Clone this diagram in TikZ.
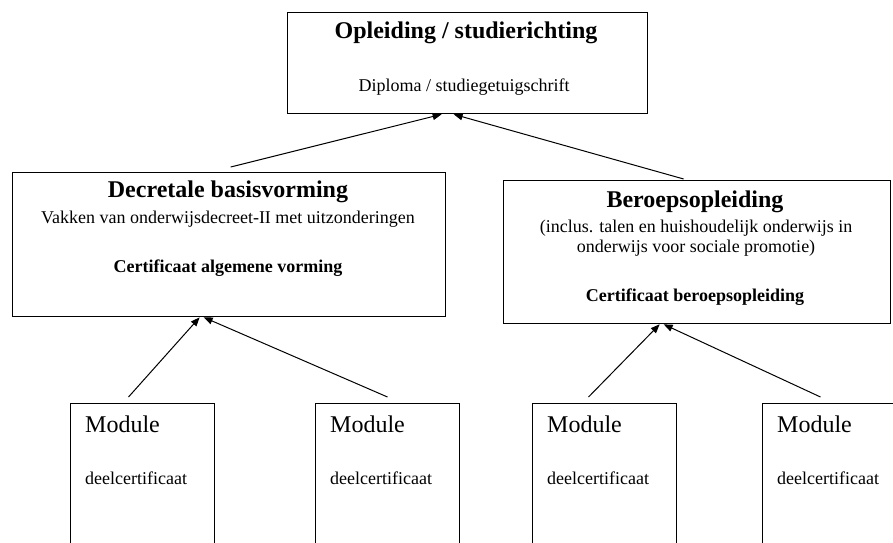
\documentclass[tikz,border=0pt]{standalone}
\usepackage{fontspec}
\setmainfont{Liberation Serif}
\usetikzlibrary{arrows.meta}
\tikzset{
  bigbox/.style={draw, line width=1.3pt, inner sep=0pt, anchor=north west},
  modbox/.style={draw, line width=1pt, inner sep=0pt, anchor=north west, minimum width=144pt, minimum height=170pt},
  titletext/.style={font=\fontsize{24}{26}\selectfont\bfseries, inner sep=0pt},
  smalltext/.style={font=\fontsize{18}{20}\selectfont, inner sep=0pt, align=center},
  smallbold/.style={font=\fontsize{18}{20}\selectfont\bfseries, inner sep=0pt},
  modtext/.style={font=\fontsize{24}{26}\selectfont, inner sep=0pt, anchor=west},
  certtext/.style={font=\fontsize{18}{20}\selectfont, inner sep=0pt, anchor=west},
  arr/.style={line width=1pt, -{Triangle[length=9pt,width=7pt]}}
}
\begin{document}
\begin{tikzpicture}[x=1pt,y=-1pt]
\useasboundingbox (0,0) rectangle (893,542);
\clip (0,0) rectangle (893,542);
\fill[white] (0,0) rectangle (893,542);

% top box
\node[bigbox, minimum width=360pt, minimum height=101pt] (top) at (287,12) {};
\node[titletext] (toptitle) at (466,33) {Opleiding / studierichting};
\node[smalltext] (topsub) at (464,87) {Diploma / studiegetuigschrift};

% left box
\node[bigbox, minimum width=433pt, minimum height=144pt] (lbox) at (12,172) {};
\node[titletext] (ltitle) at (228,192) {Decretale basisvorming};
\node[smalltext] (lsub) at (228,219) {Vakken van onderwijsdecreet-II met uitzonderingen};
\node[smallbold] (lcert) at (228,268) {Certificaat algemene vorming};

% right box
\node[bigbox, minimum width=387pt, minimum height=143pt] (rbox) at (503,180) {};
\node[titletext] (rtitle) at (695,202) {Beroepsopleiding};
\node[smalltext] (rsub) at (696,238) {(inclus. talen en huishoudelijk onderwijs in\\onderwijs voor sociale promotie)};
\node[smallbold] (rcert) at (695,297) {Certificaat beroepsopleiding};

% module boxes
\node[modbox] (m1) at (70,403) {};
\node[modbox] (m2) at (315,403) {};
\node[modbox] (m3) at (532,403) {};
\node[modbox] (m4) at (762,403) {};
\node[modtext] (m1t) at (85,424) {Module};
\node[modtext] (m2t) at (330,424) {Module};
\node[modtext] (m3t) at (547,424) {Module};
\node[modtext] (m4t) at (777,424) {Module};
\node[certtext] (m1c) at (85,478) {deelcertificaat};
\node[certtext] (m2c) at (330,478) {deelcertificaat};
\node[certtext] (m3c) at (547,478) {deelcertificaat};
\node[certtext] (m4c) at (777,478) {deelcertificaat};

% arrows
\draw[arr] ([xshift=1.5pt,yshift=5pt]lbox.north) -- ([xshift=-26pt]top.south);
\draw[arr] ([xshift=-13.5pt,yshift=1pt]rbox.north) -- ([xshift=-14pt]top.south);
\draw[arr] ([xshift=-14pt,yshift=6pt]m1.north) -- ([xshift=-29.5pt]lbox.south);
\draw[arr] ([yshift=6pt]m2.north) -- ([xshift=-25.5pt]lbox.south);
\draw[arr] ([xshift=-16pt,yshift=6pt]m3.north) -- ([xshift=-37.5pt]rbox.south);
\draw[arr] ([xshift=-14pt,yshift=6pt]m4.north) -- ([xshift=-33.5pt]rbox.south);
\end{tikzpicture}
\end{document}
